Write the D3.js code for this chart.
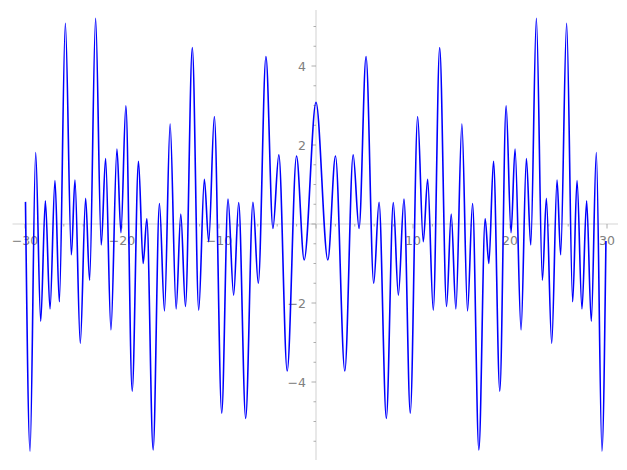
<!DOCTYPE html>
<html>
<head>
<meta charset="utf-8">
<script src="https://cdn.jsdelivr.net/npm/d3@7"></script>
<style>
  body { margin: 0; background: #fff; }
  svg { display: block; }
  text { font-family: "DejaVu Sans", sans-serif; font-size: 12.5px; fill: #808080; }
</style>
</head>
<body>
<svg width="627" height="470"></svg>
<script>
const width = 627
const height = 470

// peaks and troughs of the curve
const xs = [
  -29.95, -29.48, -28.9, -28.38, -27.9, -27.42, -26.91, -26.46, -25.84, -25.22,
  -24.85, -24.3, -23.75, -23.34, -22.72, -22.14, -21.69, -21.14, -20.52, -20.11,
  -19.6, -18.95, -18.3, -17.82, -17.44, -16.79, -16.14, -15.62, -15.04, -14.42,
  -13.94, -13.46, -12.75, -12.09, -11.51, -11.06, -10.48, -9.72, -9.07, -8.49,
  -7.97, -7.25, -6.5, -5.95, -5.16, -4.44, -3.83, -2.97, -2.01, -1.22,
  0,
  1.22, 2.01, 2.97, 3.83, 4.44, 5.16, 5.95, 6.5, 7.25, 7.97,
  8.49, 9.07, 9.72, 10.48, 11.06, 11.51, 12.09, 12.75, 13.46, 13.94,
  14.42, 15.04, 15.62, 16.14, 16.79, 17.44, 17.82, 18.3, 18.95, 19.6,
  20.11, 20.52, 21.14, 21.69, 22.14, 22.72, 23.34, 23.75, 24.3, 24.85,
  25.22, 25.84, 26.46, 26.91, 27.42, 27.9, 28.38, 28.9, 29.48, 29.89
]
const ys = [
  0.56, -5.75, 1.81, -2.46, 0.59, -2.15, 1.1, -1.97, 5.08, -0.78,
  1.11, -3.02, 0.65, -1.42, 5.21, -0.53, 1.66, -2.68, 1.9, -0.22,
  2.99, -4.23, 1.59, -1.0, 0.13, -5.72, 0.52, -2.2, 2.53, -2.15,
  0.25, -2.09, 4.47, -2.18, 1.13, -0.45, 2.72, -4.79, 0.63, -1.8,
  0.54, -4.92, 0.55, -1.5, 4.24, -0.11, 1.75, -3.72, 1.72, -0.91,
  3.08,
  -0.91, 1.72, -3.72, 1.75, -0.11, 4.24, -1.5, 0.55, -4.92, 0.54,
  -1.8, 0.63, -4.79, 2.72, -0.45, 1.13, -2.18, 4.47, -2.09, 0.25,
  -2.15, 2.53, -2.2, 0.52, -5.72, 0.13, -1.0, 1.59, -4.23, 2.99,
  -0.22, 1.9, -2.68, 1.66, -0.53, 5.21, -1.42, 0.65, -3.02, 1.11,
  -0.78, 5.08, -1.97, 1.1, -2.15, 0.59, -2.46, 1.81, -5.75, -0.43
]

const xMajor = [-30, -20, -10, 10, 20, 30]
const yMajor = [-4, -2, 2, 4]
const xMinor = d3.range(-30, 31, 2)
const yMinor = d3.range(-5.5, 5.01, 0.5)

const x = d3.scaleLinear().domain([-30, 30]).range([25, 607])
const y = d3.scaleLinear().domain([-4, 4]).range([382, 66])

const svg = d3.select("svg")
const fmt = d => (d < 0 ? "\u2212" : "") + Math.abs(d)

// axis lines
svg.append("line")
  .attr("x1", 12.5).attr("x2", 618)
  .attr("y1", y(0)).attr("y2", y(0))
  .attr("stroke", "#e3e3e3").attr("stroke-width", 1.6)
svg.append("line")
  .attr("x1", x(0)).attr("x2", x(0))
  .attr("y1", 10).attr("y2", 460)
  .attr("stroke", "#e3e3e3").attr("stroke-width", 1.6)

// x ticks
svg.selectAll(".xminor")
  .data(xMinor)
  .join("line")
  .attr("x1", d => x(d)).attr("x2", d => x(d))
  .attr("y1", y(0)).attr("y2", d => y(0) + (d % 10 === 0 ? 4.5 : 2.5))
  .attr("stroke", "#999").attr("stroke-width", 0.8)

svg.selectAll(".xlab")
  .data(xMajor)
  .join("text")
  .attr("x", d => x(d))
  .attr("y", 245)
  .attr("text-anchor", "middle")
  .text(fmt)

// y ticks
svg.selectAll(".yminor")
  .data(yMinor)
  .join("line")
  .attr("x1", x(0)).attr("x2", d => x(0) - (Math.abs(d % 2) < 1e-9 ? 4.5 : 2.5))
  .attr("y1", d => y(d)).attr("y2", d => y(d))
  .attr("stroke", "#999").attr("stroke-width", 0.8)

svg.selectAll(".ylab")
  .data(yMajor)
  .join("text")
  .attr("x", 306)
  .attr("y", d => y(d))
  .attr("dy", "0.36em")
  .attr("text-anchor", "end")
  .text(fmt)

// curve
const pts = xs.map((v, i) => [v, ys[i]])
const line = d3.line()
  .x(d => x(d[0]))
  .y(d => y(d[1]))
  .curve(d3.curveMonotoneX)

svg.append("path")
  .datum(pts)
  .attr("d", line)
  .attr("fill", "none")
  .attr("stroke", "#0000ff")
  .attr("stroke-width", 1.6)
</script>
</body>
</html>
